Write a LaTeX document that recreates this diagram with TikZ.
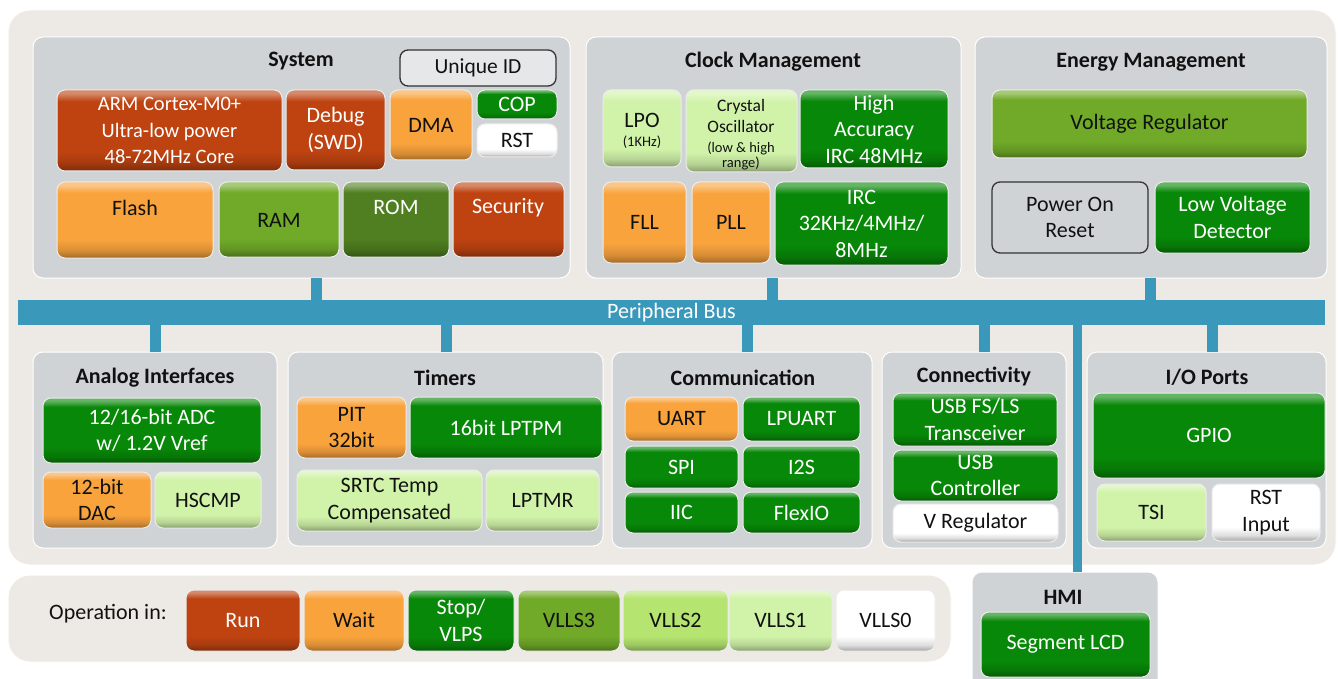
\documentclass[tikz,border=0pt]{standalone}
\usepackage{fontspec}
\setmainfont{Carlito}
\definecolor{beige}{HTML}{EDEAE6}
\definecolor{pgray}{HTML}{D0D3D6}
\definecolor{busblue}{HTML}{3A98BA}
\definecolor{cRed}{HTML}{BE4311}
\definecolor{cOrg}{HTML}{F9A33D}
\definecolor{cGrn}{HTML}{088808}
\definecolor{cYG}{HTML}{70AA28}
\definecolor{cOl}{HTML}{4F7F20}
\definecolor{cLG}{HTML}{D1F3A9}
\definecolor{cLGb}{HTML}{B5E470}
\definecolor{cWh}{HTML}{FFFFFF}
\definecolor{txt}{HTML}{111111}
\pgfdeclareverticalshading[gd,gb,gm,gt]{gloss}{100bp}{color(0bp)=(gd); color(25bp)=(gd); color(30bp)=(gb); color(37bp)=(gm); color(68bp)=(gm); color(73bp)=(gt); color(100bp)=(gt)}
\newcommand\fBox{\fontsize{22}{26.5}\selectfont}
\newcommand\fArm{\fontsize{20.5}{26.5}\selectfont}
\newcommand\fTitle{\fontsize{22}{26}\selectfont\bfseries}
\newcommand\fMid{\fontsize{17.5}{21.5}\selectfont}
\newcommand\fSmall{\fontsize{14.5}{15.5}\selectfont}
\tikzset{
  gl/.style={/utils/exec={\colorlet{gm}{#1}\colorlet{gd}{#1!65!black}\colorlet{gb}{#1!87!black}\colorlet{gt}{#1!62!white}}, shading=gloss},
  box/.style={rounded corners=8pt, draw=white!85!gray, line width=1pt, inner sep=0pt, align=center, font=\fBox},
  bxRed/.style={box, gl=cRed, text=white},
  bxOrg/.style={box, gl=cOrg, text=txt},
  bxGrn/.style={box, gl=cGrn, text=white},
  bxYG/.style={box, gl=cYG, text=txt},
  bxOl/.style={box, gl=cOl, text=white},
  bxLG/.style={box, gl=cLG, text=txt},
  bxLGb/.style={box, gl=cLGb, text=txt},
  bxWh/.style={box, gl=cWh, text=txt},
  bxOut/.style={rounded corners=8pt, draw=black!80, line width=1.3pt, inner sep=0pt, align=center, font=\fBox, text=txt},
  panel/.style={fill=pgray, draw=white, line width=1pt, rounded corners=10pt, inner sep=0pt},
  bgpanel/.style={fill=beige, draw=white, line width=1pt, rounded corners=22pt, inner sep=0pt},
  ttl/.style={font=\fTitle, text=txt, inner sep=0pt},
  lbl/.style={inner sep=0pt, align=center},
  stub/.style={draw=busblue, line width=11pt}
}
% \blk{name}{x1}{y1}{x2}{y2}{style}{text}
\newcommand\blk[7]{%
  \pgfmathsetmacro\bkw{#4-#2}\pgfmathsetmacro\bkh{#5-#3}%
  \pgfmathsetmacro\bkx{(#2+#4)/2}\pgfmathsetmacro\bky{(#3+#5)/2}%
  \node[#6, minimum width=\bkw pt, minimum height=\bkh pt, outer sep=0pt] (#1) at (\bkx,\bky) {#7};}
\begin{document}
\begin{tikzpicture}[x=1pt,y=-1pt]
\clip (0,0) rectangle (1340,679);
\fill[white] (0,0) rectangle (1340,679);
% outer backgrounds
\blk{bg}{8}{10}{1336}{565}{bgpanel}{}
\blk{opbg}{8}{575}{951}{662}{bgpanel}{}

% ---------- System ----------
\blk{sys}{33}{37}{570}{278}{panel}{}
\node[ttl] (sysT) at (301,61.5) {System};
\blk{uid}{400}{50}{556}{86}{bxOut, fill=pgray!55!white, font=\fontsize{21.5}{26}\selectfont}{Unique ID}
\blk{arm}{57}{90}{282}{171}{bxRed, font=\fArm}{ARM Cortex-M0+\\Ultra-low power\\48-72MHz Core}
\blk{dbg}{286}{90}{385}{170}{bxRed}{Debug\\(SWD)}
\blk{dma}{390}{90}{472}{160}{bxOrg}{DMA}
\blk{cop}{477}{90}{557}{119}{bxGrn}{COP}
\blk{rst}{477}{124}{557}{157}{bxWh}{RST}
\blk{flash}{57}{182}{213}{258}{bxOrg}{}
\node[lbl, font=\fBox, text=txt] (flashT) at (135,208) {Flash};
\blk{ram}{219}{182}{339}{257}{bxYG}{}
\node[lbl, font=\fBox, text=txt] (ramT) at (279,220) {RAM};
\blk{rom}{343}{182}{449}{257}{bxOl}{}
\node[lbl, font=\fBox, text=white] (romT) at (396,207) {ROM};
\blk{sec}{453}{182}{564}{257}{bxRed}{}
\node[lbl, font=\fBox, text=white] (secT) at (508,208) {Security};

% ---------- Clock ----------
\blk{clk}{586}{37}{961}{278}{panel}{}
\node[ttl] (clkT) at (773,61.5) {Clock Management};
\blk{lpo}{603}{90}{681}{167}{bxLG}{}
\node[lbl, font=\fBox, text=txt] (lpoA) at (642,120) {LPO};
\node[lbl, font=\fSmall, text=txt] (lpoB) at (642,142) {(1KHz)};
\blk{xtal}{686}{90}{797}{172}{bxLG}{}
\node[lbl, font=\fMid, text=txt] (xtalA) at (741,116) {Crystal\\Oscillator};
\node[lbl, font=\fSmall, text=txt] (xtalB) at (741,156) {(low \& high\\range)};
\blk{hirc}{800}{90}{948}{168}{bxGrn}{High\\Accuracy\\IRC 48MHz}
\blk{fll}{603}{182}{686}{263}{bxOrg}{FLL}
\blk{pll}{692}{182}{770}{263}{bxOrg}{PLL}
\blk{irc}{775}{182}{948}{265}{bxGrn}{IRC\\32KHz/4MHz/\\8MHz}

% ---------- Energy ----------
\blk{nrg}{975}{37}{1327}{278}{panel}{}
\node[ttl] (nrgT) at (1151,62.5) {Energy Management};
\blk{vreg}{992}{90}{1307}{158}{bxYG}{Voltage Regulator}
\blk{por}{992}{182}{1148}{253}{bxOut, fill=pgray}{Power On\\Reset}
\blk{lvd}{1155}{182}{1310}{253}{bxGrn}{Low Voltage\\Detector}

% ---------- Bus ----------
\blk{bus}{18}{300}{1325}{325}{fill=busblue, inner sep=0pt, text=white, font=\fBox}{Peripheral Bus}

% ---------- Analog ----------
\blk{ana}{33}{352}{277}{548}{panel}{}
\node[ttl] (anaT) at (155,377.5) {Analog Interfaces};
\blk{adc}{43}{398}{261}{463}{bxGrn}{12/16-bit ADC\\w/ 1.2V Vref}
\blk{dac}{43}{472}{151}{528}{bxOrg}{12-bit\\DAC}
\blk{hscmp}{155}{472}{261}{528}{bxLG}{HSCMP}

% ---------- Timers ----------
\blk{tim}{288}{352}{603}{546}{panel}{}
\node[ttl] (timT) at (445,377.5) {Timers};
\blk{pit}{297}{397}{406}{458}{bxOrg}{PIT\\32bit}
\blk{lptpm}{410}{397}{602}{458}{bxGrn}{16bit LPTPM}
\blk{srtc}{297}{470}{482}{531}{bxLG}{SRTC Temp\\Compensated}
\blk{lptmr}{486}{470}{599}{531}{bxLG}{LPTMR}

% ---------- Communication ----------
\blk{com}{612}{352}{872}{548}{panel}{}
\node[ttl] (comT) at (743,377.5) {Communication};
\blk{uart}{625}{397}{738}{441}{bxOrg}{UART}
\blk{lpuart}{743}{397}{860}{441}{bxGrn}{LPUART}
\blk{spi}{625}{446}{738}{488}{bxGrn}{SPI}
\blk{iis}{743}{446}{860}{488}{bxGrn}{I2S}
\blk{iic}{625}{492}{738}{533}{bxGrn}{IIC}
\blk{flexio}{743}{492}{860}{533}{bxGrn}{FlexIO}

% ---------- Connectivity ----------
\blk{con}{882}{352}{1066}{548}{panel}{}
\node[ttl] (conT) at (974,376.5) {Connectivity};
\blk{usbt}{893}{393}{1057}{446}{bxGrn}{USB FS/LS\\Transceiver}
\blk{usbc}{893}{450}{1058}{501}{bxGrn}{USB\\Controller}
\blk{vr}{893}{504}{1058}{542}{bxWh}{V Regulator}

% ---------- I/O ----------
\blk{io}{1087}{352}{1326}{548}{panel}{}
\node[ttl] (ioT) at (1207,377.5) {I/O Ports};
\blk{gpio}{1093}{393}{1325}{478}{bxGrn}{GPIO}
\blk{tsi}{1097}{484}{1206}{541}{bxLG}{TSI}
\blk{rsti}{1212}{484}{1320}{541}{bxWh}{RST\\Input}

% ---------- HMI ----------
\blk{hmi}{972}{572}{1158}{692}{panel}{}
\node[ttl] (hmiT) at (1063,597) {HMI};
\blk{seg}{981}{612}{1150}{677}{bxGrn}{Segment LCD}

% ---------- Operation ----------
\node[lbl, font=\fBox, text=txt] (opT) at (108,614) {Operation in:};
\blk{run}{186}{590}{300}{651}{bxRed}{Run}
\blk{wait}{304}{590}{404}{651}{bxOrg}{Wait}
\blk{stop}{408}{590}{514}{651}{bxGrn}{Stop/\\VLPS}
\blk{vlls3}{518}{590}{620}{651}{bxYG}{VLLS3}
\blk{vlls2}{623}{590}{728}{651}{bxLGb}{VLLS2}
\blk{vlls1}{729}{590}{832}{651}{bxLG}{VLLS1}
\blk{vlls0}{836}{590}{935}{651}{bxWh}{VLLS0}

% ---------- bus stubs ----------
\draw[stub] (sys.south -| 316,0) -- (bus.north -| 316,0);
\draw[stub] (clk.south -| 772,0) -- (bus.north -| 772,0);
\draw[stub] (nrg.south -| 1150,0) -- (bus.north -| 1150,0);
\draw[stub] (bus.south -| 155,0) -- (ana.north -| 155,0);
\draw[stub] (bus.south -| 446,0) -- (tim.north -| 446,0);
\draw[stub] (bus.south -| 747,0) -- (com.north -| 747,0);
\draw[stub] (bus.south -| 984,0) -- (con.north -| 984,0);
\draw[stub] (bus.south -| 1212,0) -- (io.north -| 1212,0);
\draw[stub, line width=9pt] (bus.south -| 1077,0) -- (hmi.north -| 1077,0);
\end{tikzpicture}
\end{document}
